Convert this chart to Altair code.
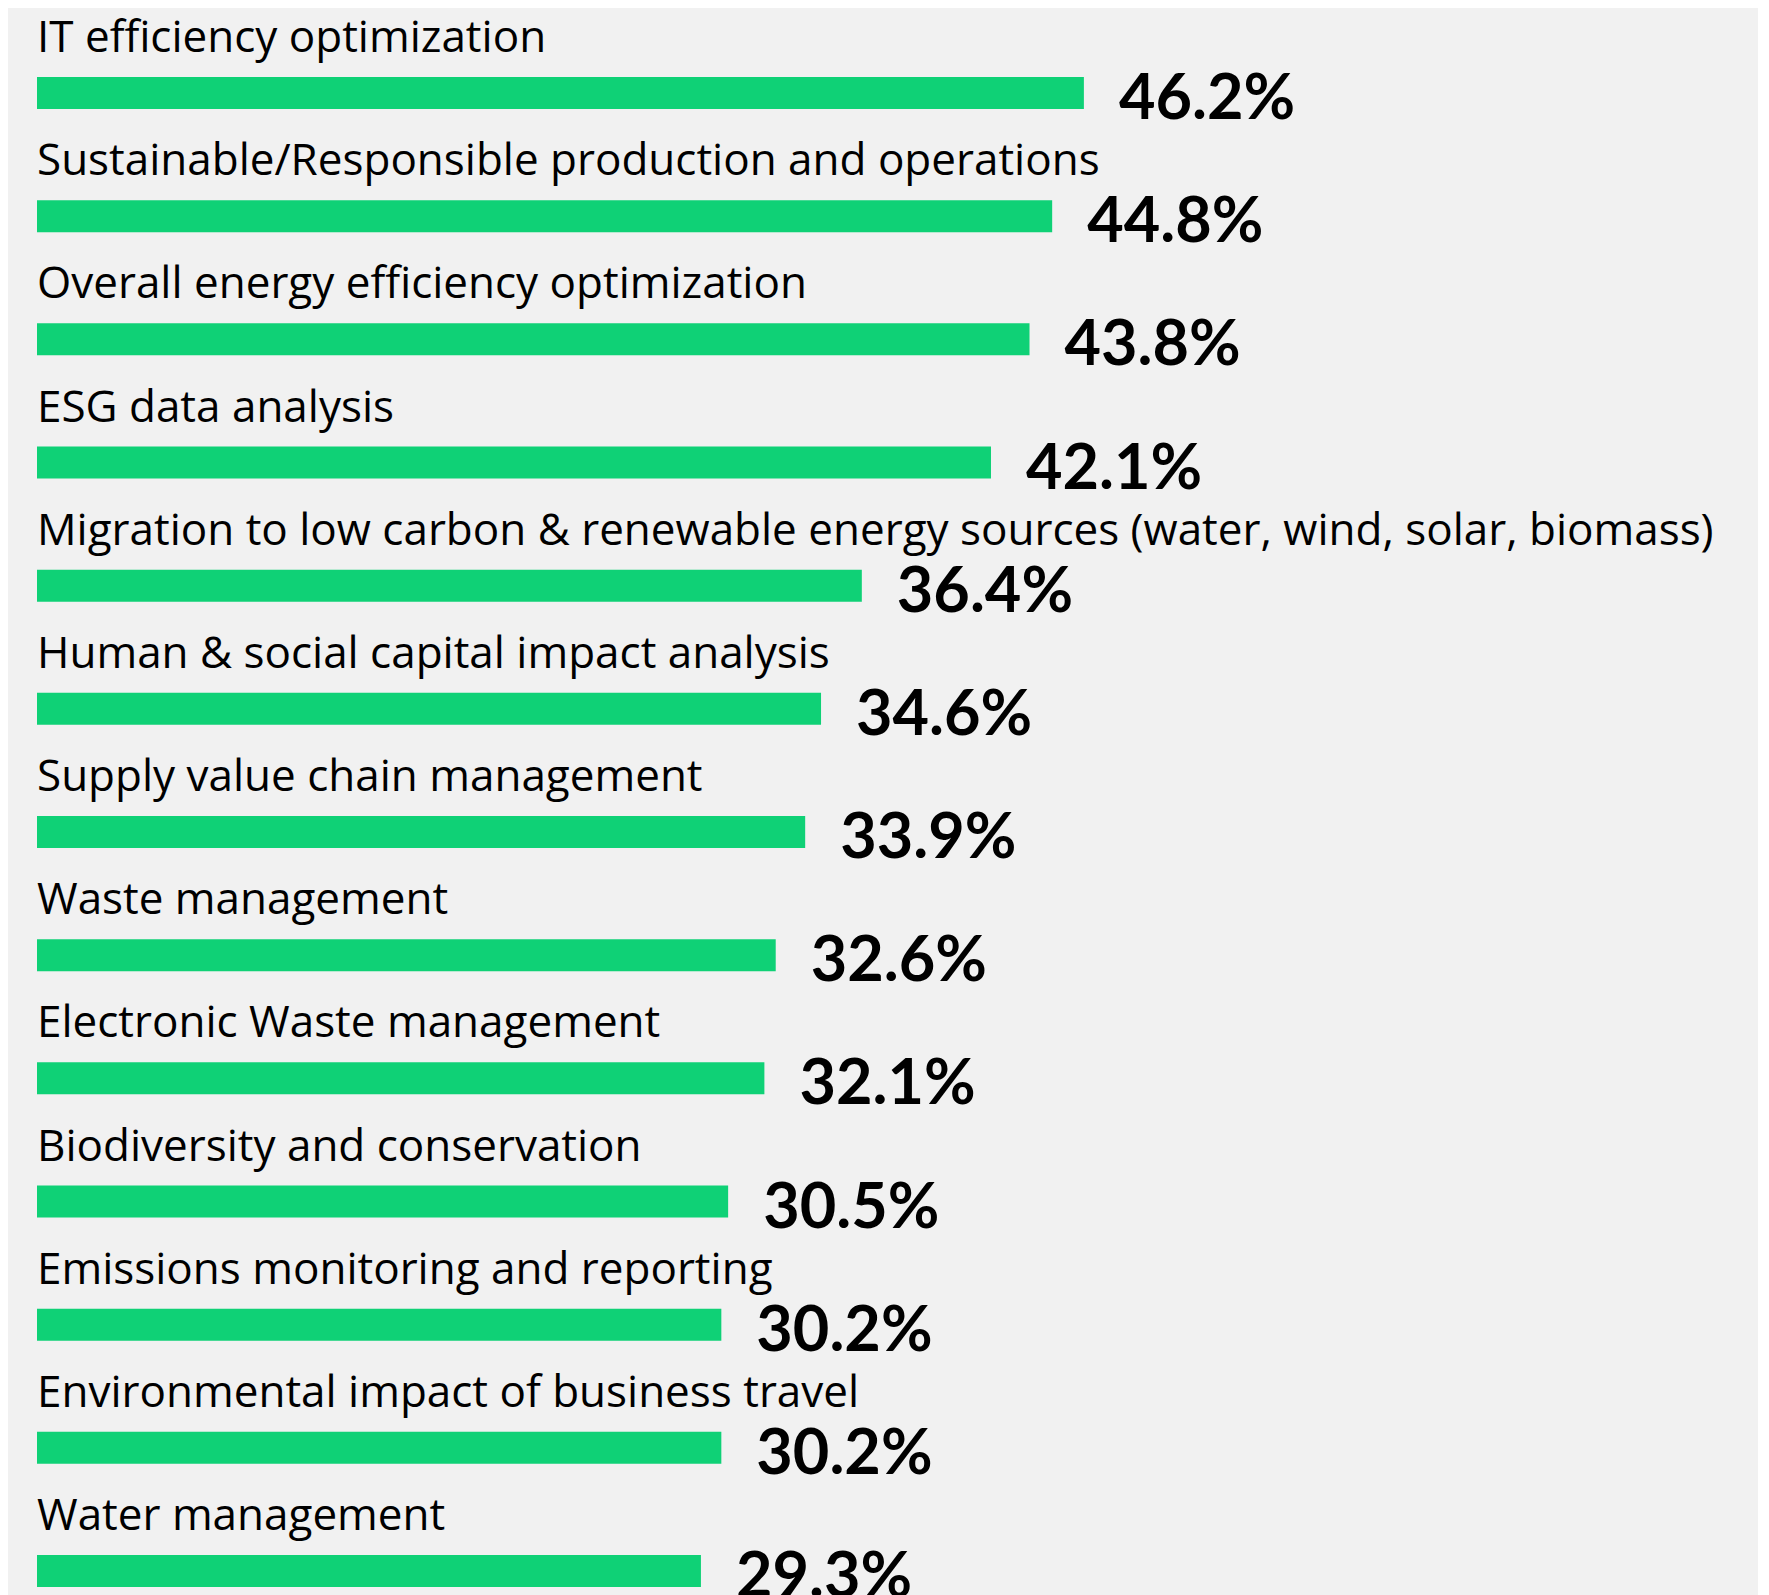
import altair as alt
import pandas as pd

categories = [
    "IT efficiency optimization",
    "Sustainable/Responsible production and operations",
    "Overall energy efficiency optimization",
    "ESG data analysis",
    "Migration to low carbon & renewable energy sources (water, wind, solar, biomass)",
    "Human & social capital impact analysis",
    "Supply value chain management",
    "Waste management",
    "Electronic Waste management",
    "Biodiversity and conservation",
    "Emissions monitoring and reporting",
    "Environmental impact of business travel",
    "Water management",
]
values = [46.2, 44.8, 43.8, 42.1, 36.4, 34.6, 33.9, 32.6, 32.1, 30.5, 30.2, 30.2, 29.3]
value_labels = ["46.2%", "44.8%", "43.8%", "42.1%", "36.4%", "34.6%", "33.9%",
                "32.6%", "32.1%", "30.5%", "30.2%", "30.2%", "29.3%"]

df = pd.DataFrame({"cat": categories, "val": values, "lab": value_labels})

W, H = 1750, 1587
PX_PER_PCT = 22.66
X0 = 29
STEP = 123.17
BAR_H = 32
TOP = 69

# band scale: step*(n - pi + 2*po) = H
n = len(categories)
pi = 1 - BAR_H / STEP
po = (H / STEP - n + pi) / 2
align = TOP / (2 * po * STEP)

xscale = alt.Scale(domain=[-X0 / PX_PER_PCT, (W - X0) / PX_PER_PCT], nice=False, zero=False)
yscale = alt.Scale(domain=categories, paddingInner=pi, paddingOuter=po, align=align)
y_enc = alt.Y("cat:N", scale=yscale, axis=None, sort=categories)

base = alt.Chart(df)

bars = base.mark_bar(color="#0fd176").encode(
    x=alt.X("val:Q", scale=xscale, axis=None),
    x2=alt.datum(0),
    y=y_enc,
)

cat_text = base.mark_text(
    align="left", baseline="alphabetic", dy=-41, fontSize=44, font="Open Sans", color="#000000"
).encode(
    x=alt.X(datum=0, scale=xscale, axis=None),
    y=y_enc,
    text="cat:N",
)

val_text = base.mark_text(
    align="left", baseline="alphabetic", dx=35, dy=26, fontSize=63, font="Lato",
    fontWeight="bold", color="#000000"
).encode(
    x=alt.X("val:Q", scale=xscale, axis=None),
    y=y_enc,
    text="lab:N",
)

chart = alt.layer(bars, cat_text, val_text).properties(
    width=W, height=H, autosize="none", padding=0, background="#f1f1f1"
).configure_view(stroke=None)

chart.save("out.html", embed_options={"renderer": "svg", "actions": False})
